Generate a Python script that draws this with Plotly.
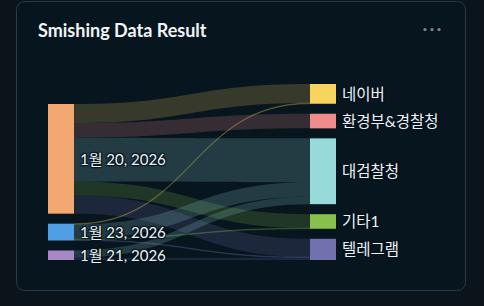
import plotly.graph_objects as go

# ---------------- data ----------------
source_names = ["1월 20, 2026", "1월 23, 2026", "1월 21, 2026"]
target_names = ["네이버", "환경부&경찰청", "대검찰청", "기타1", "텔레그램"]
source_colors = ["#F2A86F", "#509EE3", "#A989C5"]
target_colors = ["#F9D45C", "#EF8C8C", "#98D9D9", "#88BF4D", "#7172AD"]

link_source = ["1월 20, 2026"] * 5 + ["1월 23, 2026"] * 4 + ["1월 21, 2026"] * 2
link_target = ["네이버", "환경부&경찰청", "대검찰청", "기타1", "텔레그램",
               "네이버", "대검찰청", "기타1", "텔레그램",
               "대검찰청", "텔레그램"]
link_value = [26, 20, 60, 19, 25,
              1, 20, 1, 1,
              10, 3]

title_text = "Smishing Data Result"

# ---------------- layout params ----------------
W, H = 484, 306
OUTER_BG = "#0b141b"
CARD_BG = "#07151f"
CARD_BORDER = "#2b3a44"
TEXT = "#eef2f5"
FONT = "Lato, 'Noto Sans CJK KR', sans-serif"

DX0, DX1 = 48, 336      # sankey domain (px)
DY0, DY1 = 84, 260
THICK = 26
PAD = 10

dw, dh = DX1 - DX0, DY1 - DY0

names = source_names + target_names
colors = source_colors + target_colors
idx = {n: i for i, n in enumerate(names)}

src_tot = [sum(v for s, v in zip(link_source, link_value) if s == n) for n in source_names]
tgt_tot = [sum(v for t, v in zip(link_target, link_value) if t == n) for n in target_names]

ky = min((dh - (len(c) - 1) * PAD) / sum(c) for c in (src_tot, tgt_tot))

# right column stacked from top
tgt_centers = []
y = 0.0
for v in tgt_tot:
    tgt_centers.append(y + v * ky / 2)
    y += v * ky + PAD
# left column stacked against the bottom
col_h = sum(v * ky for v in src_tot) + (len(src_tot) - 1) * PAD
src_centers = []
y = dh - col_h
for v in src_tot:
    src_centers.append(y + v * ky / 2)
    y += v * ky + PAD

node_x = [(THICK / 2) / dw] * len(source_names) + [1 - (THICK / 2) / dw] * len(target_names)
node_y = [c / dh for c in src_centers + tgt_centers]


def rgba(hexc, a):
    hexc = hexc.lstrip("#")
    r, g, b = int(hexc[0:2], 16), int(hexc[2:4], 16), int(hexc[4:6], 16)
    return f"rgba({r},{g},{b},{a})"


link_colors = [rgba(colors[idx[t]], 0.2) for t in link_target]

fig = go.Figure(go.Sankey(
    arrangement="fixed",
    domain=dict(x=[DX0 / W, DX1 / W], y=[1 - DY1 / H, 1 - DY0 / H]),
    node=dict(
        label=[""] * len(names),
        color=colors,
        x=node_x,
        y=node_y,
        pad=PAD,
        thickness=THICK,
        line=dict(width=0),
        hoverinfo="none",
    ),
    link=dict(
        source=[idx[s] for s in link_source],
        target=[idx[t] for t in link_target],
        value=link_value,
        color=link_colors,
        hoverinfo="none",
    ),
))


def px(x):
    return x / W


def py(y):
    return 1 - y / H


# card
x0, x1, y0, y1, r = 16.5, 465.5, 1.5, 290.5, 9
path = (f"M {px(x0 + r)},{py(y0)} L {px(x1 - r)},{py(y0)} Q {px(x1)},{py(y0)} {px(x1)},{py(y0 + r)} "
        f"L {px(x1)},{py(y1 - r)} Q {px(x1)},{py(y1)} {px(x1 - r)},{py(y1)} "
        f"L {px(x0 + r)},{py(y1)} Q {px(x0)},{py(y1)} {px(x0)},{py(y1 - r)} "
        f"L {px(x0)},{py(y0 + r)} Q {px(x0)},{py(y0)} {px(x0 + r)},{py(y0)} Z")
shapes = [dict(type="path", xref="paper", yref="paper", path=path,
               fillcolor=CARD_BG, line=dict(color=CARD_BORDER, width=1), layer="below")]
# menu dots
for cx in (425, 432, 439):
    shapes.append(dict(type="circle", xref="paper", yref="paper",
                       x0=px(cx - 1.6), x1=px(cx + 1.6), y0=py(29.5 + 1.6), y1=py(29.5 - 1.6),
                       fillcolor="#7d8a94", line=dict(width=0), layer="above"))

shadow = ", ".join(f"{a}px {b}px 1px {CARD_BG}" for a, b in ((1, 1), (-1, -1), (1, -1), (-1, 1)))
annotations = [dict(text=f"<b>{title_text}</b>", x=px(36), y=py(30), xref="paper", yref="paper",
                    xanchor="left", yanchor="middle", showarrow=False,
                    font=dict(family=FONT, size=18, color="#f2f5f8"))]
for n, c in zip(source_names, src_centers):
    annotations.append(dict(text=n, x=px(DX0 + THICK + 4), y=py(DY0 + c), xref="paper", yref="paper",
                            xanchor="left", yanchor="middle", showarrow=False,
                            font=dict(family=FONT, size=15, color=TEXT, shadow=shadow)))
for n, c in zip(target_names, tgt_centers):
    annotations.append(dict(text=n, x=px(DX1 + 4), y=py(DY0 + c), xref="paper", yref="paper",
                            xanchor="left", yanchor="middle", showarrow=False,
                            font=dict(family=FONT, size=15.5, color=TEXT, shadow=shadow)))

fig.update_layout(
    width=W, height=H,
    margin=dict(l=0, r=0, t=0, b=0),
    paper_bgcolor=OUTER_BG,
    plot_bgcolor=OUTER_BG,
    shapes=shapes,
    annotations=annotations,
    font=dict(family=FONT, color=TEXT),
)

fig.write_html("out.html")
